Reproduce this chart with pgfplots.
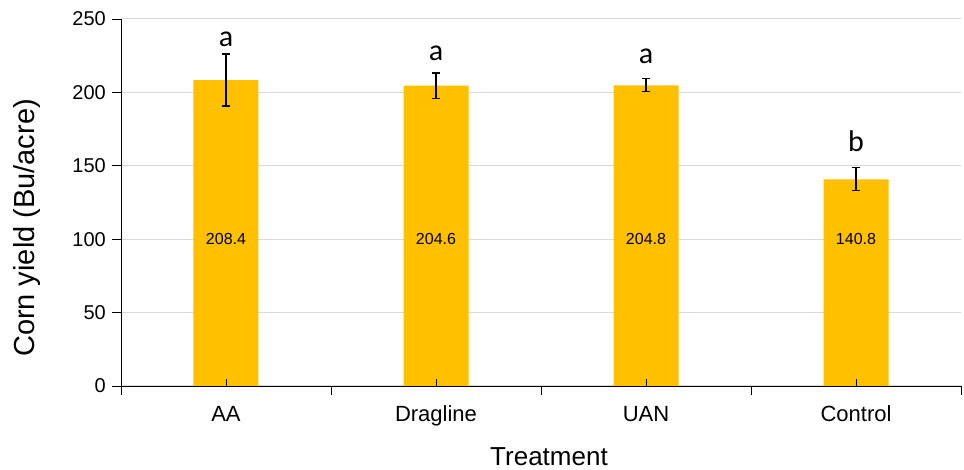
\documentclass[border=0pt]{standalone}
\usepackage{fontspec}
\setmainfont{Liberation Sans}
\newfontfamily\calibri{Carlito}
\usepackage{pgfplots}
\usepackage{pgfplotstable}
\pgfplotsset{compat=1.18}
\definecolor{bargold}{HTML}{FFC000}
\definecolor{gridgray}{HTML}{D9D9D9}

\pgfplotstableread{
x y err
0 208.4 17.7
1 204.6 8.6
2 204.8 4.4
3 140.8 7.8
}\yields

\begin{document}
\begin{tikzpicture}
\begin{axis}[
    at={(0,0)}, anchor=south west,
    scale only axis,
    width=840pt, height=367pt,
    xmin=-0.5, xmax=3.5,
    ymin=0, ymax=250,
    axis lines*=left,
    ytick={0,50,...,250},
    xtick={-0.5,0.5,1.5,2.5,3.5},
    xticklabels={},
    extra x ticks={0,1,2,3},
    extra x tick labels={AA,Dragline,UAN,Control},
    extra x tick style={major tick length=0pt,
        xticklabel style={font=\fontsize{22}{26}\selectfont, anchor=base, yshift=-36pt}},
    tick align=outside,
    major tick length=9pt,
    tick style={black, line width=0.9pt},
    axis line style={black, line width=0.9pt},
    ymajorgrids,
    grid style={gridgray, line width=1pt},
    /pgf/number format/assume math mode=true,
    yticklabel style={font=\fontsize{20}{24}\selectfont, inner sep=0pt, anchor=east, xshift=-6pt},
]
\addplot[ybar, bar width=65pt, fill=bargold, draw=none,
    error bars/.cd, y dir=both, y explicit,
    error bar style={black, line width=1.2pt},
    error mark options={rotate=90, black, line width=1.2pt, mark size=4pt}]
    table[x=x, y=y, y error=err] {\yields};
% short inward tick marks at the category centres, drawn over the bars
\foreach \c in {0,1,2,3} {
    \edef\tmp{\noexpand\draw[black, line width=0.9pt] (axis cs:\c,0) -- ([yshift=7pt]axis cs:\c,0);}
    \tmp
}
\begin{scope}[font=\fontsize{16}{19}\selectfont]
\node at (axis cs:0,100) {208.4};
\node at (axis cs:1,100) {204.6};
\node at (axis cs:2,100) {204.8};
\node at (axis cs:3,100) {140.8};
\end{scope}
\begin{scope}[font=\calibri\fontsize{30}{36}\selectfont, inner sep=0pt]
\node[anchor=base] at (axis cs:0,231) {a};
\node[anchor=base] at (axis cs:1,222) {a};
\node[anchor=base] at (axis cs:2,220) {a};
\node[anchor=base] at (axis cs:3,159.4) {b};
\end{scope}
\end{axis}
\node[rotate=90, font=\fontsize{29}{34}\selectfont] at (-94pt,158pt) {Corn yield (Bu/acre)};
\node[anchor=base, font=\fontsize{26}{31}\selectfont] at (428pt,-80pt) {Treatment};
\pgfresetboundingbox
\path (-121pt,-84pt) rectangle (843pt,386pt);
\end{tikzpicture}
\end{document}
